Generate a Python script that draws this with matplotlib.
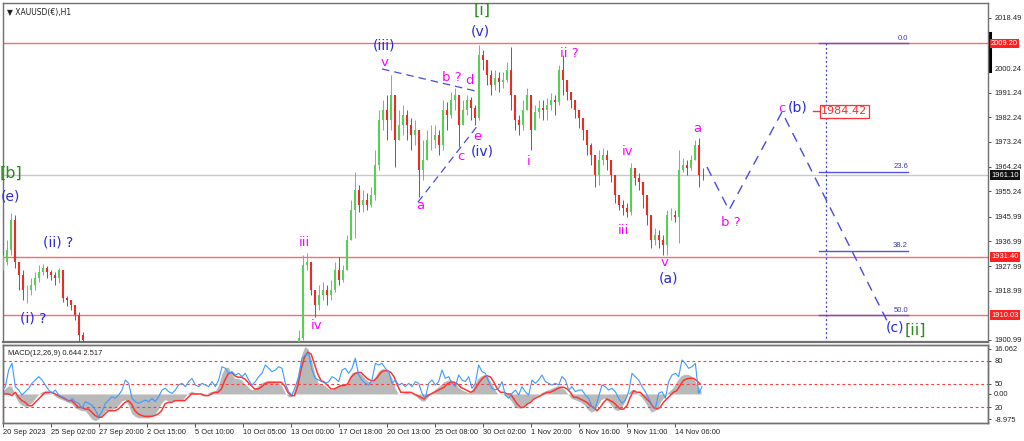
import numpy as np
import matplotlib
matplotlib.use("Agg")
import matplotlib.pyplot as plt
import matplotlib.transforms as mtransforms

# ---------------------------------------------------------------- data
# H1 candles, grouped in chunks; left block (20 Sep - 22 Sep) and right block (13 Oct - 14 Nov)
open_a0 = 1927.0
close_a = [1929.4, 1933.8, 1944.8, 1929.4, 1924.7, 1919.2, 1919.2, 1921.0, 1923.6, 1925.8, 1927.3,
           1925.8, 1924.7, 1923.6, 1926.5, 1916.3, 1915.6, 1913.7, 1910.1, 1902.8, 1901.0]
high_a = [1932.0, 1937.5, 1947.3, 1946.6, 1929.4, 1926.5, 1921.0, 1923.6, 1925.8, 1928.4, 1928.7,
          1928.0, 1926.5, 1925.8, 1927.3, 1926.5, 1917.0, 1915.6, 1913.7, 1911.2, 1903.9]
low_a = [1926.5, 1928.4, 1932.0, 1927.3, 1919.2, 1915.6, 1914.5, 1917.4, 1919.2, 1922.1, 1924.7,
         1923.6, 1922.9, 1921.0, 1921.8, 1914.8, 1913.4, 1911.9, 1908.3, 1899.2, 1899.2]

open_b0 = 1897.0
close_b = [1901.7, 1928.4, 1929.4, 1919.2, 1913.7, 1917.4, 1919.2, 1917.4, 1919.2, 1926.5,
           1922.9, 1926.5, 1937.5, 1948.4, 1955.7, 1950.2, 1952.1, 1950.2, 1953.9, 1964.8,
           1981.3, 1984.9, 1981.3, 1990.4, 1974.0, 1979.4, 1983.1, 1979.4, 1975.8, 1977.6,
           1963.0, 1966.7, 1974.0, 1974.0, 1975.8, 1972.1, 1984.9, 1983.1, 1988.6, 1990.4,
           1979.4, 1984.9, 1988.6, 1985.7, 1982.0, 2005.0, 2003.2, 1997.7, 1994.0, 1996.6,
           1995.1, 1995.9, 1999.5, 1990.4, 1981.3, 1979.4, 1984.9, 1990.4, 1977.6, 1984.2,
           1985.7, 1984.9, 1986.7, 1988.6, 1987.8, 1999.5, 1995.9, 1991.5, 1988.6, 1984.9,
           1982.0, 1977.6, 1972.1, 1968.5, 1961.2, 1966.7, 1968.5, 1966.7, 1961.2, 1953.9,
           1950.2, 1949.1, 1947.7, 1963.7, 1960.1, 1958.6, 1953.9, 1946.6, 1937.5, 1939.3,
           1937.5, 1935.7, 1946.6, 1946.6, 1945.9, 1963.0, 1964.8, 1963.7, 1966.7, 1972.1,
           1961.2, 1961.1]
high_b = [1904.6, 1932.0, 1932.7, 1929.4, 1919.2, 1921.0, 1922.1, 1921.0, 1922.9, 1929.4,
          1931.3, 1928.4, 1939.3, 1952.1, 1962.3, 1957.5, 1955.7, 1954.6, 1956.8, 1970.3,
          1984.9, 1988.6, 1990.4, 1997.7, 1990.4, 1984.9, 1986.7, 1984.9, 1982.0, 1981.3,
          1977.6, 1974.0, 1977.6, 1979.4, 1979.4, 1977.6, 1988.6, 1987.8, 1991.5, 1993.0,
          1988.6, 1988.6, 1990.4, 1989.7, 1986.7, 2008.6, 2006.8, 2003.2, 1999.5, 1999.5,
          1998.8, 1998.8, 2002.4, 2007.9, 1988.6, 1983.1, 1988.6, 1993.0, 1990.4, 1986.7,
          1988.6, 1988.6, 1989.3, 1991.1, 1990.4, 2001.3, 2005.0, 1995.1, 1991.5, 1988.6,
          1984.9, 1982.0, 1977.6, 1972.9, 1966.7, 1970.3, 1971.0, 1970.3, 1966.7, 1961.2,
          1953.9, 1952.1, 1951.0, 1965.6, 1963.7, 1961.9, 1958.6, 1953.9, 1946.6, 1941.8,
          1941.1, 1939.3, 1948.4, 1949.1, 1948.4, 1970.3, 1967.4, 1966.7, 1968.5, 1974.0,
          1974.7, 1963.7]
low_b = [1897.3, 1901.0, 1926.5, 1917.4, 1909.4, 1911.9, 1915.6, 1913.7, 1915.6, 1918.5,
         1921.0, 1922.1, 1926.5, 1937.5, 1938.2, 1947.7, 1947.7, 1948.4, 1949.5, 1952.1,
         1963.0, 1977.6, 1974.0, 1977.6, 1964.1, 1974.0, 1975.8, 1974.0, 1970.3, 1972.1,
         1953.2, 1959.4, 1968.5, 1970.3, 1971.0, 1968.5, 1970.3, 1977.6, 1982.0, 1984.9,
         1971.4, 1979.4, 1983.1, 1981.3, 1979.4, 1981.3, 1999.5, 1994.0, 1990.4, 1992.2,
         1991.5, 1993.0, 1995.1, 1984.9, 1977.6, 1975.8, 1977.6, 1984.9, 1970.3, 1979.4,
         1982.0, 1981.3, 1981.3, 1984.9, 1983.1, 1986.7, 1990.4, 1988.6, 1985.7, 1982.0,
         1978.3, 1974.0, 1968.5, 1964.8, 1956.8, 1957.5, 1964.8, 1963.0, 1958.6, 1951.0,
         1948.4, 1946.6, 1945.9, 1946.6, 1957.5, 1955.7, 1949.1, 1942.9, 1934.6, 1935.7,
         1934.6, 1932.0, 1932.0, 1944.8, 1944.0, 1936.4, 1962.3, 1961.2, 1963.0, 1966.7,
         1956.8, 1959.4]

# indicator window: MACD main (histogram), signal, and the oscillator line (0-100 scale)
macd_hist = [0.5, 2.0, 3.0, 2.5, -1.0, -3.0, -4.0, -4.5, -4.0, -3.0, -1.5, 0, 0.8, 1.0, 0.5, 0, -0.8, -1.5, -2.0, -2.5,
             -3.0, -3.5, -5.0, -5.5, -6.0, -6.0, -7.5, -9.0, -9.5, -9.0, -7.5, -6.0, -5.5, -5.5, -5.0, -4.0, -2.5, -2.0, -4.0, -7.0,
             -8.0, -8.5, -8.5, -8.5, -8.5, -8.0, -7.0, -5.5, -3.0, -2.0, -2.5, -2.5, -2.0, -2.0, -2.5, -1.0, 0.5, 1.0, 0.5, 0,
             -0.5, -0.5, 0.5, 1.0, 1.0, 3.0, 7.0, 9.5, 9.5, 7.0, 5.5, 5.5, 5.0, 3.5, 2.5, 1.5, 2.0, 3.0, 4.0, 4.5,
             4.5, 4.5, 4.5, 4.0, 3.0, 0.5, -1.0, -1.0, 2.0, 8.0, 14.0, 17.0, 16.0, 12.0, 7.0, 4.0, 3.5, 3.0, 2.0, 1.5,
             2.0, 3.0, 3.5, 3.5, 3.5,
             7.5, 8.0, 8.0, 7.0, 5.5, 4.5, 4.5, 6.0, 8.0, 9.0, 9.0, 8.0, 6.0, 2.5, 0, 0, 0.5, 0.5, 0, -0.5,
             -1.5, -2.5, -2.5, -1.0, 0.5, 1.5, 2.5, 3.5, 4.5, 5.0, 5.0, 4.0, 2.5, 1.5, 1.0, 0.5, 1.0, 3.5, 5.5, 6.5,
             7.0, 6.0, 4.0, 1.5, 0, 0, -0.5, -1.0, -2.5, -4.5, -5.0, -5.0, -4.0, -3.0, -2.0, -1.0, -0.5, 0.5, 1.0, 1.5,
             2.0, 2.5, 3.0, 2.5, 1.5, 0, -1.5, -2.0, -2.5, -3.0, -4.0, -5.5, -6.5, -6.0, -4.0, -2.0, -1.5, -2.5, -4.0, -5.5,
             -6.0, -5.0, -3.0, 0, 1.5, 1.0, 0, -1.0, -2.5, -4.5, -6.5, -6.0, -5.0, -2.5, -1.0, 0.5, 1.5, 3.0, 5.0, 6.5,
             7.0, 7.0, 6.5, 5.0, 3.0, 1.0]
macd_signal = [0, 0, 0, -0.6, 0.6, -1.2, -2.4, -3.0, -4.2, -4.2, -3.0, -1.8, -0.6, 0.6, 0.6, 0.6, 0, -0.6, -1.2, -1.8,
               -2.4, -2.4, -3.6, -4.8, -4.8, -5.4, -5.4, -6.5, -7.7, -8.3, -8.3, -7.1, -6.0, -6.0, -6.0, -5.4, -4.2, -3.0, -2.4, -3.6,
               -6.0, -7.1, -7.7, -8.0, -8.0, -8.0, -7.7, -7.1, -6.0, -3.6, -3.0, -3.0, -2.4, -2.4, -2.4, -2.4, -1.2, 0, 0, 0,
               0, -0.6, -0.6, 0, 0.6, 0.6, 1.8, 4.8, 7.1, 7.7, 6.5, 6.0, 6.0, 5.4, 4.2, 3.0, 1.8, 1.8, 2.4, 3.6,
               4.2, 4.2, 4.2, 4.2, 4.2, 3.0, 0.6, -0.6, -0.6, 3.0, 8.9, 13.1, 14.9, 14.3, 10.7, 7.1, 4.8, 4.2, 3.0, 1.8,
               1.8, 2.4, 3.0, 3.0, 3.6,
               6.0, 7.1, 7.7, 7.7, 6.5, 5.4, 4.8, 4.8, 6.0, 7.7, 8.3, 8.3, 7.7, 6.0, 3.0, 0.6, 0.6, 0.6, 0.6, 0,
               -0.6, -1.2, -1.8, -0.6, 0, 0.6, 1.2, 1.8, 2.4, 3.6, 4.2, 4.2, 3.6, 2.4, 1.8, 1.2, 0.6, 1.2, 3.0, 4.8,
               6.0, 6.5, 6.0, 4.2, 1.8, 0.6, 0.6, 0, 0, -1.8, -3.6, -4.8, -4.8, -3.6, -3.0, -1.8, -1.2, -0.6, 0, 0.6,
               0.6, 1.2, 1.8, 2.4, 2.4, 1.8, 0.6, -1.2, -1.2, -1.8, -2.4, -3.0, -4.2, -4.8, -6.0, -4.8, -3.0, -1.8, -2.4, -3.0,
               -4.2, -5.4, -5.4, -4.2, -1.2, 1.2, 0.6, 0.6, -0.6, -1.8, -3.0, -4.8, -5.4, -4.8, -3.0, -1.8, -0.6, 0.6, 1.2, 3.0,
               4.8, 5.4, 5.6, 5.6, 4.8, 3.6]
osc_line = [42.3, 46.6, 67.9, 76.4, 46.6, 42.3, 35.9, 40.2, 44.5, 50.9, 55.1, 59.4, 55.1, 48.7, 42.3, 38.1, 42.3, 35.9, 33.8, 31.7,
            27.4, 31.7, 27.4, 25.3, 18.9, 27.4, 25.3, 23.2, 16.8, 8.3, 14.7, 25.3, 29.6, 33.8, 31.7, 35.9, 42.3, 55.1, 50.9, 31.7,
            27.4, 25.3, 27.4, 29.6, 27.4, 31.7, 27.4, 33.8, 42.3, 44.5, 40.2, 38.1, 42.3, 48.7, 50.9, 46.6, 53.0, 57.2, 48.7, 46.6,
            50.9, 48.7, 46.6, 53.0, 46.6, 55.1, 72.1, 70.0, 63.6, 65.8, 61.5, 63.6, 59.4, 63.6, 55.1, 48.7, 53.0, 59.4, 63.6, 74.3,
            70.0, 65.8, 67.9, 72.1, 70.0, 50.9, 40.2, 35.9, 46.6, 59.4, 82.8, 87.0, 89.2, 67.9, 57.2, 55.1, 53.0, 50.9, 53.0, 59.4,
            57.2, 53.0, 67.9, 70.0, 63.6,
            70.0, 82.8, 61.5, 55.1, 50.9, 48.7, 55.1, 76.4, 74.3, 76.4, 70.0, 65.8, 50.9, 55.1, 48.7, 50.9, 46.6, 50.9, 46.6, 53.0,
            50.9, 38.1, 31.7, 50.9, 55.1, 48.7, 53.0, 67.9, 57.2, 59.4, 50.9, 46.6, 61.5, 55.1, 53.0, 59.4, 44.5, 50.9, 74.3, 65.8,
            63.6, 53.0, 44.5, 42.3, 44.5, 53.0, 35.9, 31.7, 38.1, 42.3, 35.9, 46.6, 40.2, 35.9, 55.1, 50.9, 55.1, 61.5, 53.0, 50.9,
            48.7, 50.9, 48.7, 59.4, 55.1, 42.3, 46.6, 40.2, 42.3, 42.3, 35.9, 31.7, 21.1, 18.9, 33.8, 48.7, 46.6, 42.3, 44.5, 40.2,
            31.7, 25.3, 29.6, 40.2, 63.6, 59.4, 55.1, 46.6, 40.2, 31.7, 23.2, 18.9, 38.1, 40.2, 31.7, 53.0, 61.5, 63.6, 59.4, 80.7,
            76.4, 70.0, 72.1, 76.4, 38.1, 46.6]

# horizontal levels, fib anchor and the analyst's projected path
level_lines = [2009.20, 1931.40, 1910.03]
last_price = 1961.10
fib_top = 2009.20
fib_half = 1910.03
fib_ratios = [0.0, 23.6, 38.2, 50.0]
proj_prices = [1964.1, 1948.4, 1984.2, 1908.0]
proj_bars = [707, 729, 782, 887]
target_price = 1984.42
triangle_upper = ([382, 475], [1999.9, 1991.9])
triangle_lower = ([418, 478], [1951.3, 1979.4])

price_ticks = [2018.49, 2000.24, 1991.24, 1982.24, 1973.24, 1964.24, 1955.24,
               1945.99, 1936.99, 1927.99, 1918.99, 1900.99]
date_labels = ["20 Sep 2023", "25 Sep 02:00", "27 Sep 20:00", "2 Oct 15:00", "5 Oct 10:00",
               "10 Oct 05:00", "13 Oct 00:00", "17 Oct 18:00", "20 Oct 13:00", "25 Oct 08:00",
               "30 Oct 02:00", "1 Nov 20:00", "6 Nov 16:00", "9 Nov 11:00", "14 Nov 06:00"]

# wave counts: (text, bar, price)
blue_waves = [("(e)", 10, 1953.2), ("(ii) ?", 58, 1936.7), ("(i) ?", 33, 1909.0), ("(iii)", 384, 2008.3),
              ("(v)", 480, 2013.7), ("(iv)", 482, 1969.6), ("(a)", 669, 1923.6), ("(b)", 798, 1985.7),
              ("(c)", 895, 1905.4)]
green_waves = [("[b]", 11, 1961.9), ("[i]", 482, 2021.4), ("[ii]", 915, 1904.6)]
pink_waves = [("v", 385, 2002.4), ("b ?", 452, 1996.6), ("d", 469, 1995.5), ("e", 477, 1975.1),
              ("c", 461, 1967.8), ("i", 529, 1966.3), ("iii", 304, 1936.7), ("a", 420, 1949.9),
              ("iv", 317, 1906.1), ("ii ?", 569, 2005.4), ("iv", 628, 1969.6), ("iii", 623, 1940.8),
              ("v", 665, 1929.1), ("a", 697, 1978.0), ("b ?", 731, 1944.0), ("c", 782, 1985.3)]

# ---------------------------------------------------------------- layout
W, H = 1024, 441
STEP = 4
X0_A, X0_B = 3, 299
XMAX = 988
UP, DOWN = "#55d055", "#ee2a22"
BLUE, PINK, GREEN = "#2a2ad6", "#ff00ff", "#2b8a1e"
LINE_RED = "#ff6a6a"
small = dict(family="Liberation Sans", fontsize=5.4, color="#222222")

fig = plt.figure(figsize=(W / 100, H / 100), dpi=100)
ax = fig.add_axes([3 / W, 1 - 342 / H, (XMAX - 3) / W, 339 / H])
axm = fig.add_axes([3 / W, 1 - 423 / H, (XMAX - 3) / W, 78 / H], sharex=ax)

ax.set_xlim(3, XMAX)
ax.set_ylim(1900.26, 2023.96)


def draw_candles(x0, o0, closes, highs, lows):
    c = np.array(closes)
    o = np.concatenate([[o0], c[:-1]])
    h = np.maximum(np.array(highs), np.maximum(o, c))
    l = np.minimum(np.array(lows), np.minimum(o, c))
    x = x0 + STEP * np.arange(len(c))
    cols = np.where(c >= o, UP, DOWN)
    ax.vlines(x, l, h, colors=cols, lw=0.7, zorder=3)
    ax.vlines(x, np.minimum(o, c), np.maximum(o, c), colors=cols, lw=1.5, zorder=3)


# level lines
for lv in level_lines:
    ax.axhline(lv, color=LINE_RED, lw=1.0, zorder=1)
ax.axhline(last_price, color="#c8c8c8", lw=1.0, zorder=1)

draw_candles(X0_A, open_a0, close_a, high_a, low_a)
draw_candles(X0_B, open_b0, close_b, high_b, low_b)

# fibonacci tool
fib_span = 2 * (fib_top - fib_half)
for r in fib_ratios:
    p = fib_top - r / 100 * fib_span
    ax.plot([819, 908], [p, p], color="#5555dd", lw=1.0, zorder=2)
    ax.text(908, p + 0.6, f"{r:.1f}", ha="right", va="bottom", family="Liberation Sans",
            fontsize=5.5, color="#3a3ab0", zorder=5)
ax.plot([826, 826], [fib_top, 1899], color="#3b3be0", lw=0.9, ls=(0, (1.5, 2)), zorder=2)

# wave-structure lines and projection
ax.plot(*triangle_upper, color="#4a4ae0", lw=0.9, ls=(0, (6, 4)), zorder=4)
ax.plot(*triangle_lower, color="#4a4ae0", lw=0.9, ls=(0, (6, 4)), zorder=4)
ax.plot(proj_bars, proj_prices, color="#4a4ae0", lw=1.0, ls=(0, (7, 5)), zorder=4)

# target box
ax.plot([813, 820], [target_price, target_price], color="#ff3030", lw=1.0, zorder=5)
ax.text(821, target_price, f"{target_price:.2f}", ha="left", va="center", fontsize=8,
        color="#ff2a2a", zorder=6,
        bbox=dict(boxstyle="square,pad=0.12", fc="white", ec="#ff3030", lw=0.9))

# wave labels
for t, x, y in blue_waves:
    ax.text(x, y, t, ha="center", va="center", fontsize=10, color=BLUE, zorder=6)
for t, x, y in green_waves:
    ax.text(x, y, t, ha="center", va="center", fontsize=11.5, color=GREEN, zorder=6)
for t, x, y in pink_waves:
    ax.text(x, y, t, ha="center", va="center", fontsize=9.5, color=PINK, zorder=6)

# header
ax.text(0.004, 0.985, "\u25bc XAUUSD(\u20ac),H1", transform=ax.transAxes, ha="left", va="top",
        family="DejaVu Sans", fontsize=5.5, color="#222222")

# right price scale
ax.yaxis.tick_right()
ax.set_yticks(price_ticks)
ax.set_yticklabels([f"{v:.2f}" for v in price_ticks], **small)
ax.tick_params(axis="y", length=2.5, width=0.6, color="#333333", pad=2)
ax.tick_params(axis="x", bottom=False, labelbottom=False)
tr = mtransforms.blended_transform_factory(ax.transAxes, ax.transData)
for lv, fc in [(2009.20, "#ff2020"), (1931.40, "#ff2020"), (1910.03, "#ff2020"), (last_price, "#111111")]:
    ax.text(1.003, lv, f"{lv:.2f}", transform=tr, ha="left", va="center", family="Liberation Sans",
            fontsize=5.4, color="white", zorder=7, clip_on=False,
            bbox=dict(boxstyle="square,pad=0.18", fc=fc, ec="none"))
ax.plot([1.002, 1.002], [2013.0, 1999.0], transform=tr, color="black", lw=2.2, clip_on=False)

for sp in ax.spines.values():
    sp.set_color("#707070")
    sp.set_linewidth(1.0)
ax.spines["bottom"].set_linewidth(1.6)

# ---------------------------------------------------------------- indicator window
axm.set_ylim(-10.37, 17.49)
xh = np.linspace(2, 701, len(macd_hist))
xs = np.linspace(2, 700, len(macd_signal))
xo = np.linspace(2, 702, len(osc_line))
axm.fill_between(xh, 0, macd_hist, color="#b9b9b9", lw=0, zorder=1)
axm.plot(xs, macd_signal, color="#ff3434", lw=1.1, zorder=3)

axo = axm.twinx()
axo.set_ylim(0.2, 99.8)
for lv in (80, 50, 20):
    axo.axhline(lv, color="#ff3b3b", lw=0.8, ls=(0, (2.5, 2.5)), zorder=2)
axo.plot(xo, osc_line, color="#3d9bff", lw=0.8, zorder=4)

axm.yaxis.tick_right()
axm.set_yticks([16.062, 0.0, -8.975])
axm.set_yticklabels(["16.062", "0.00", "-8.975"], **small)
axo.set_yticks([80, 50, 20])
axo.set_yticklabels(["80", "50", "20"], **small)
for a in (axm, axo):
    a.tick_params(axis="y", length=2.5, width=0.6, color="#333333", pad=2)
    for sp in a.spines.values():
        sp.set_color("#707070")
        sp.set_linewidth(1.0)
axm.text(0.005, 0.93, "MACD(12,26,9) 0.644 2.517", transform=axm.transAxes, ha="left", va="top",
         **small)

date_pos = [3 + 48 * i for i in range(len(date_labels))]
axm.set_xticks(date_pos)
axm.set_xticklabels(date_labels, ha="left", **small)
axm.tick_params(axis="x", length=3, width=0.6, color="#333333", pad=1.5)

fig.savefig("out.png", dpi=100, facecolor="white")
